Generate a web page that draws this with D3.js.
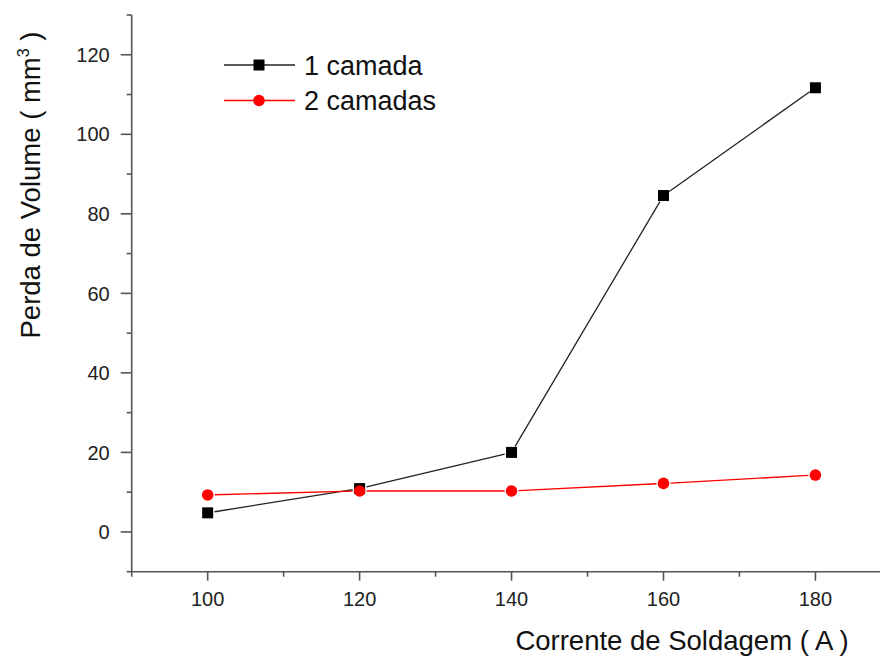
<!DOCTYPE html>
<html>
<head>
<meta charset="utf-8">
<script src="https://cdn.jsdelivr.net/npm/d3@7"></script>
<style>
  html, body { margin: 0; padding: 0; background: #fff; }
  svg { display: block; font-family: "Liberation Sans", Arial, sans-serif; }
</style>
</head>
<body>
<svg id="chart" width="880" height="657"></svg>
<script>
// Welding current (A) vs. volume loss (mm³)
const currents = [100, 120, 140, 160, 180];
const umaCamada = [4.8, 10.9, 20.0, 84.6, 111.7];
const duasCamadas = [9.3, 10.3, 10.3, 12.2, 14.3];
const xTicks = [100, 120, 140, 160, 180];
const yTicks = [0, 20, 40, 60, 80, 100, 120];

const series = [
  { name: "1 camada", values: umaCamada, color: "#000000", lineColor: "#222", shape: "square" },
  { name: "2 camadas", values: duasCamadas, color: "#ff0000", lineColor: "#ff0000", shape: "circle" }
];

const svg = d3.select("#chart");
const x = d3.scaleLinear().domain([90, 188.5]).range([131.7, 880]);
const y = d3.scaleLinear().domain([-10, 130]).range([571.7, 15]);
const axisColor = "#555";
const tickFont = 20;
const titleFont = 27.5;

// X axis with major ticks and minor ticks between them
const xAxis = svg.append("g").attr("transform", `translate(0,${y(-10)})`);
xAxis.append("line").attr("x1", x(90)).attr("x2", 880).attr("stroke", axisColor).attr("stroke-width", 1.6);
const xMinor = d3.range(90, 190, 10).filter(v => !xTicks.includes(v));
xAxis.selectAll(".xmaj").data(xTicks).join("line")
  .attr("x1", d => x(d)).attr("x2", d => x(d)).attr("y1", 0).attr("y2", 9)
  .attr("stroke", axisColor).attr("stroke-width", 1.6);
xAxis.selectAll(".xmin").data(xMinor).join("line")
  .attr("x1", d => x(d)).attr("x2", d => x(d)).attr("y1", 0).attr("y2", 5)
  .attr("stroke", axisColor).attr("stroke-width", 1.6);
xAxis.selectAll("text").data(xTicks).join("text")
  .attr("x", d => x(d)).attr("y", 34).attr("text-anchor", "middle")
  .attr("font-size", tickFont).attr("fill", "#222").text(d => d);

// Y axis
const yAxis = svg.append("g").attr("transform", `translate(${x(90)},0)`);
yAxis.append("line").attr("y1", y(-10)).attr("y2", y(130)).attr("stroke", axisColor).attr("stroke-width", 1.6);
const yMinor = d3.range(-10, 131, 10).filter(v => !yTicks.includes(v));
yAxis.selectAll(".ymaj").data(yTicks).join("line")
  .attr("y1", d => y(d)).attr("y2", d => y(d)).attr("x1", 0).attr("x2", -11)
  .attr("stroke", axisColor).attr("stroke-width", 1.6);
yAxis.selectAll(".ymin").data(yMinor).join("line")
  .attr("y1", d => y(d)).attr("y2", d => y(d)).attr("x1", 0).attr("x2", -5)
  .attr("stroke", axisColor).attr("stroke-width", 1.6);
yAxis.selectAll("text").data(yTicks).join("text")
  .attr("x", -22).attr("y", d => y(d)).attr("dy", "0.36em").attr("text-anchor", "end")
  .attr("font-size", tickFont).attr("fill", "#222").text(d => d);

// Axis titles
svg.append("text").attr("x", 682).attr("y", 650).attr("text-anchor", "middle")
  .attr("font-size", titleFont).attr("fill", "#111").text("Corrente de Soldagem ( A )");
const yt = svg.append("text").attr("transform", "translate(40,185) rotate(-90)")
  .attr("text-anchor", "middle").attr("font-size", titleFont).attr("fill", "#111");
yt.append("tspan").text("Perda de Volume ( mm");
yt.append("tspan").attr("font-size", 16).attr("dy", -11).text("3");
yt.append("tspan").attr("dy", 11).text(" )");

// Line segments with small gaps around each marker
const gap = 7;
function drawSeries(s) {
  const g = svg.append("g");
  const pts = currents.map((c, i) => [x(c), y(s.values[i])]);
  for (let i = 0; i < pts.length - 1; i++) {
    const [x1, y1] = pts[i], [x2, y2] = pts[i + 1];
    const len = Math.hypot(x2 - x1, y2 - y1);
    const ux = (x2 - x1) / len, uy = (y2 - y1) / len;
    g.append("line")
      .attr("x1", x1 + ux * gap).attr("y1", y1 + uy * gap)
      .attr("x2", x2 - ux * gap).attr("y2", y2 - uy * gap)
      .attr("stroke", s.lineColor).attr("stroke-width", 1.3);
  }
  pts.forEach(([px, py]) => drawMarker(g, s, px, py));
}
function drawMarker(g, s, px, py) {
  if (s.shape === "square") {
    g.append("rect").attr("x", px - 5.5).attr("y", py - 5.5).attr("width", 11).attr("height", 11).attr("fill", s.color);
  } else {
    g.append("circle").attr("cx", px).attr("cy", py).attr("r", 5.8).attr("fill", s.color);
  }
}
series.forEach(drawSeries);

// Legend
const legend = svg.append("g");
series.forEach((s, i) => {
  const ly = 65 + i * 35.5;
  legend.append("line").attr("x1", 224).attr("x2", 295).attr("y1", ly).attr("y2", ly)
    .attr("stroke", s.lineColor).attr("stroke-width", 1.3);
  drawMarker(legend, s, 259, ly);
  legend.append("text").attr("x", 304).attr("y", ly).attr("dy", "0.36em")
    .attr("font-size", 27).attr("fill", "#111").text(s.name);
});
</script>
</body>
</html>
